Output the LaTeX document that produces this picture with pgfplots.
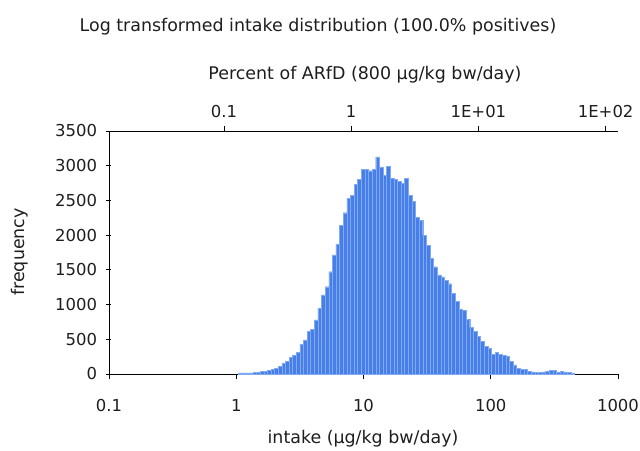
\documentclass[border=0pt]{standalone}
\usepackage{pgfplots}
\pgfplotsset{compat=1.18}
\usepackage{fontspec}
\setmainfont{DejaVu Sans}
\definecolor{barfill}{RGB}{72,126,232}
\definecolor{baredge}{RGB}{128,170,242}
\definecolor{txt}{RGB}{30,30,30}
\pgfplotstableread{
x y
0.017 15
0.0454 15
0.0738 15
0.1022 18
0.1306 20
0.159 25
0.1874 38
0.2158 42
0.2442 55
0.2726 62
0.301 82
0.3294 115
0.3578 154
0.3862 180
0.4146 240
0.443 274
0.4714 310
0.4998 432
0.5282 490
0.5566 610
0.585 648
0.6134 778
0.6418 950
0.6702 1138
0.6986 1257
0.727 1473
0.7554 1714
0.7838 1872
0.8122 2146
0.8406 2323
0.869 2530
0.8974 2578
0.9258 2731
0.9542 2803
0.9826 2947
1.011 2947
1.0394 2928
1.0678 2947
1.0962 3129
1.1246 2985
1.153 2866
1.1814 2995
1.2098 2818
1.2382 2803
1.2666 2770
1.295 2746
1.3234 2818
1.3518 2578
1.3802 2482
1.4086 2256
1.437 2218
1.4654 2002
1.4938 1858
1.5222 1666
1.5506 1545
1.579 1426
1.6074 1400
1.6358 1350
1.6642 1300
1.6926 1162
1.721 1042
1.7494 931
1.7778 912
1.8062 787
1.8346 672
1.863 610
1.8914 538
1.9198 466
1.9482 403
1.9766 370
2.005 288
2.0334 307
2.0618 280
2.0902 268
2.1186 250
2.147 178
2.1754 130
2.2038 82
2.2322 70
2.2606 65
2.289 43
2.3174 29
2.3458 22
2.3742 19
2.4026 30
2.431 38
2.4594 53
2.4878 50
2.5162 29
2.5446 38
2.573 29
2.6014 19
2.6298 15
2.6582 0
}\histdata
\begin{document}
\begin{tikzpicture}[font=\fontsize{16.5}{19}\selectfont, text=txt]
\useasboundingbox (-109bp,-77bp) rectangle (531bp,374bp);
\begin{axis}[
  at={(0,0)}, anchor=south west,
  scale only axis, width=509bp, height=243bp,
  xmin=-1, xmax=3, ymin=0, ymax=3500,
  axis x line*=bottom, axis y line*=left,
  axis line style={black, line width=0.8bp},
  xtick={-1,0,1,2,3}, xticklabels={0.1,1,10,100,1000},
  ytick={0,500,...,3500},
  xtick align=outside, ytick align=center,
  major tick length=5bp,
  tick style={black, line width=0.8bp},
  /pgf/number format/assume math mode=true,
  /pgf/number format/1000 sep={},
  xticklabel style={yshift=-17bp},
  yticklabel style={xshift=-6bp},
  clip=false,
]
\addplot[ybar interval, fill=barfill, draw=baredge, line width=0.4bp] table {\histdata};
\end{axis}
\begin{axis}[
  at={(0,0)}, anchor=south west,
  scale only axis, width=509bp, height=243bp,
  xmin=-1, xmax=3, ymin=0, ymax=3500,
  axis x line*=top, axis y line=none,
  axis line style={black, line width=0.8bp},
  xtick={-0.0969,0.9031,1.9031,2.9031}, xticklabels={0.1,1,1E+01,1E+02},
  xtick align=outside, major tick length=5bp,
  tick style={black, line width=0.8bp},
  xticklabel style={yshift=5bp},
  /pgf/number format/assume math mode=true,
]
\addplot[draw=none] coordinates {(0,0)};
\end{axis}
\begin{scope}[font=\fontsize{17.5}{20}\selectfont]
\node at (209bp,347bp) {Log transformed intake distribution (100.0\% positives)};
\node at (256bp,299bp) {Percent of ARfD (800 µg/kg bw/day)};
\node at (254bp,-65bp) {intake (µg/kg bw/day)};
\node[rotate=90] at (-89bp,122bp) {frequency};
\end{scope}
\end{tikzpicture}
\end{document}
